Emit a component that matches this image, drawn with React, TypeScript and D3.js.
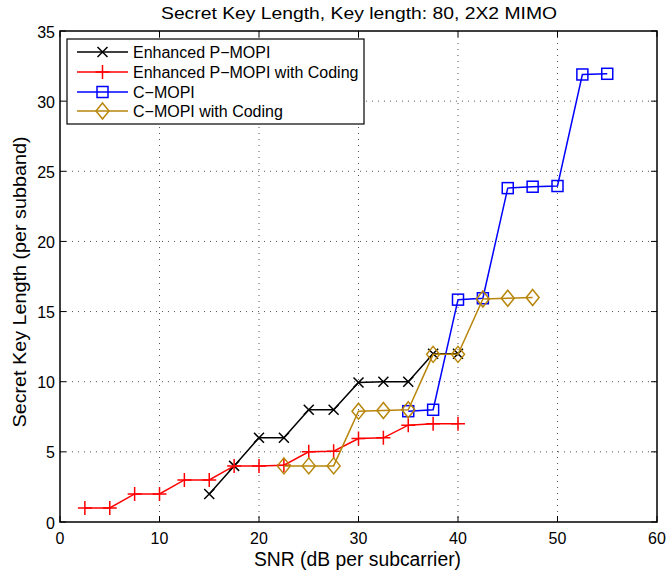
import React from "react";
import * as d3 from "d3";

const xTicks = [0, 10, 20, 30, 40, 50, 60];
const yTicks = [0, 5, 10, 15, 20, 25, 30, 35];

const epX = [15, 17.5, 20, 22.5, 25, 27.5, 30, 32.5, 35, 37.5, 40];
const epY = [2, 4, 6, 6, 8, 8, 9.95, 10, 10, 12, 12];

const epcX = [2.5, 5, 7.5, 10, 12.5, 15, 17.5, 20, 22.5, 25, 27.5, 30, 32.5, 35, 37.5, 40];
const epcY = [1, 1, 2, 2, 3, 3, 4, 4, 4.05, 5, 5.05, 5.95, 6, 6.9, 7, 7];

const cmX = [35, 37.5, 40, 42.5, 45, 47.5, 50, 52.5, 55];
const cmY = [7.9, 8, 15.85, 15.95, 23.8, 23.9, 23.95, 31.9, 31.95];

const cmcX = [22.5, 25, 27.5, 30, 32.5, 35, 37.5, 40, 42.5, 45, 47.5];
const cmcY = [4, 4, 4, 7.9, 7.95, 8, 11.95, 11.95, 15.9, 15.95, 16];

const seriesNames = [
  "Enhanced P\u2212MOPI",
  "Enhanced P\u2212MOPI with Coding",
  "C\u2212MOPI",
  "C\u2212MOPI with Coding",
];
const colors = ["#000000", "#ff0000", "#0000ff", "#b8860b"];
const markers = ["x", "plus", "square", "diamond"];

const W = 666, H = 574;
const L = 60, R = 657, T = 31, B = 522;
const font = "'Liberation Sans', Arial, Helvetica, sans-serif";

function Marker({ type, x, y, color }: { type: string; x: number; y: number; color: string }) {
  if (type === "x") {
    const s = 5;
    return <path d={`M${x - s},${y - s}L${x + s},${y + s}M${x - s},${y + s}L${x + s},${y - s}`} stroke={color} strokeWidth={1.5} fill="none" />;
  }
  if (type === "plus") {
    const s = 7;
    return <path d={`M${x - s},${y}L${x + s},${y}M${x},${y - s}L${x},${y + s}`} stroke={color} strokeWidth={1.5} fill="none" />;
  }
  if (type === "square") {
    const s = 5.5;
    return <rect x={x - s} y={y - s} width={2 * s} height={2 * s} stroke={color} strokeWidth={1.5} fill="none" />;
  }
  const w = 6.5, h = 8;
  return <path d={`M${x},${y - h}L${x + w},${y}L${x},${y + h}L${x - w},${y}Z`} stroke={color} strokeWidth={1.5} fill="none" />;
}

export default function App() {
  const x = d3.scaleLinear().domain([0, 60]).range([L, R]);
  const y = d3.scaleLinear().domain([0, 35]).range([B, T]);
  const data = [
    epX.map((v, i) => [v, epY[i]]),
    epcX.map((v, i) => [v, epcY[i]]),
    cmX.map((v, i) => [v, cmY[i]]),
    cmcX.map((v, i) => [v, cmcY[i]]),
  ] as [number, number][][];
  const line = d3.line<[number, number]>().x((d) => x(d[0])).y((d) => y(d[1]));
  const tl = 6;

  const legX = 67, legY = 39, legW = 297, legH = 85;
  const legRows = [52, 72, 92, 111];

  return (
    <svg width={W} height={H} style={{ position: "absolute", left: 0, top: 0, background: "#fff" }} fontFamily={font}>
      <rect x={0} y={0} width={W} height={H} fill="#fff" />
      {/* grid */}
      {xTicks.slice(1, -1).map((t) => (
        <line key={"gx" + t} x1={x(t)} x2={x(t)} y1={T} y2={B} stroke="#555" strokeWidth={1} strokeDasharray="1,5" />
      ))}
      {yTicks.slice(1, -1).map((t) => (
        <line key={"gy" + t} x1={L} x2={R} y1={y(t)} y2={y(t)} stroke="#555" strokeWidth={1} strokeDasharray="1,5" />
      ))}
      {/* ticks */}
      {xTicks.map((t) => (
        <g key={"tx" + t}>
          <line x1={x(t)} x2={x(t)} y1={B} y2={B - tl} stroke="#000" />
          <line x1={x(t)} x2={x(t)} y1={T} y2={T + tl} stroke="#000" />
          <text x={x(t)} y={B + 22} textAnchor="middle" fontSize={16}>{t}</text>
        </g>
      ))}
      {yTicks.map((t) => (
        <g key={"ty" + t}>
          <line x1={L} x2={L + tl} y1={y(t)} y2={y(t)} stroke="#000" />
          <line x1={R} x2={R - tl} y1={y(t)} y2={y(t)} stroke="#000" />
          <text x={L - 5} y={y(t) + 6.5} textAnchor="end" fontSize={16}>{t}</text>
        </g>
      ))}
      {/* series */}
      {data.map((d, i) => (
        <g key={"s" + i}>
          <path d={line(d) || ""} stroke={colors[i]} strokeWidth={1.5} fill="none" />
          {d.map((p, j) => (
            <Marker key={j} type={markers[i]} x={x(p[0])} y={y(p[1])} color={colors[i]} />
          ))}
        </g>
      ))}
      {/* frame */}
      <rect x={L} y={T} width={R - L} height={B - T} fill="none" stroke="#000" strokeWidth={1.5} />
      {/* legend */}
      <rect x={legX} y={legY} width={legW} height={legH} fill="#fff" stroke="#000" strokeWidth={1.2} />
      {seriesNames.map((n, i) => (
        <g key={"l" + i}>
          <line x1={77} x2={128} y1={legRows[i]} y2={legRows[i]} stroke={colors[i]} strokeWidth={1.5} />
          <Marker type={markers[i]} x={102.5} y={legRows[i]} color={colors[i]} />
          <text x={133} y={legRows[i] + 6} fontSize={16}>{n}</text>
        </g>
      ))}
      {/* titles */}
      <text x={359} y={19} textAnchor="middle" fontSize={17} textLength={396} lengthAdjust="spacingAndGlyphs">Secret Key Length, Key length: 80, 2X2 MIMO</text>
      <text x={357.5} y={566} textAnchor="middle" fontSize={19.5} textLength={207} lengthAdjust="spacingAndGlyphs">SNR (dB per subcarrier)</text>
      <text transform={`translate(26,282) rotate(-90)`} textAnchor="middle" fontSize={18} textLength={291} lengthAdjust="spacingAndGlyphs">Secret Key Length (per subband)</text>
    </svg>
  );
}
